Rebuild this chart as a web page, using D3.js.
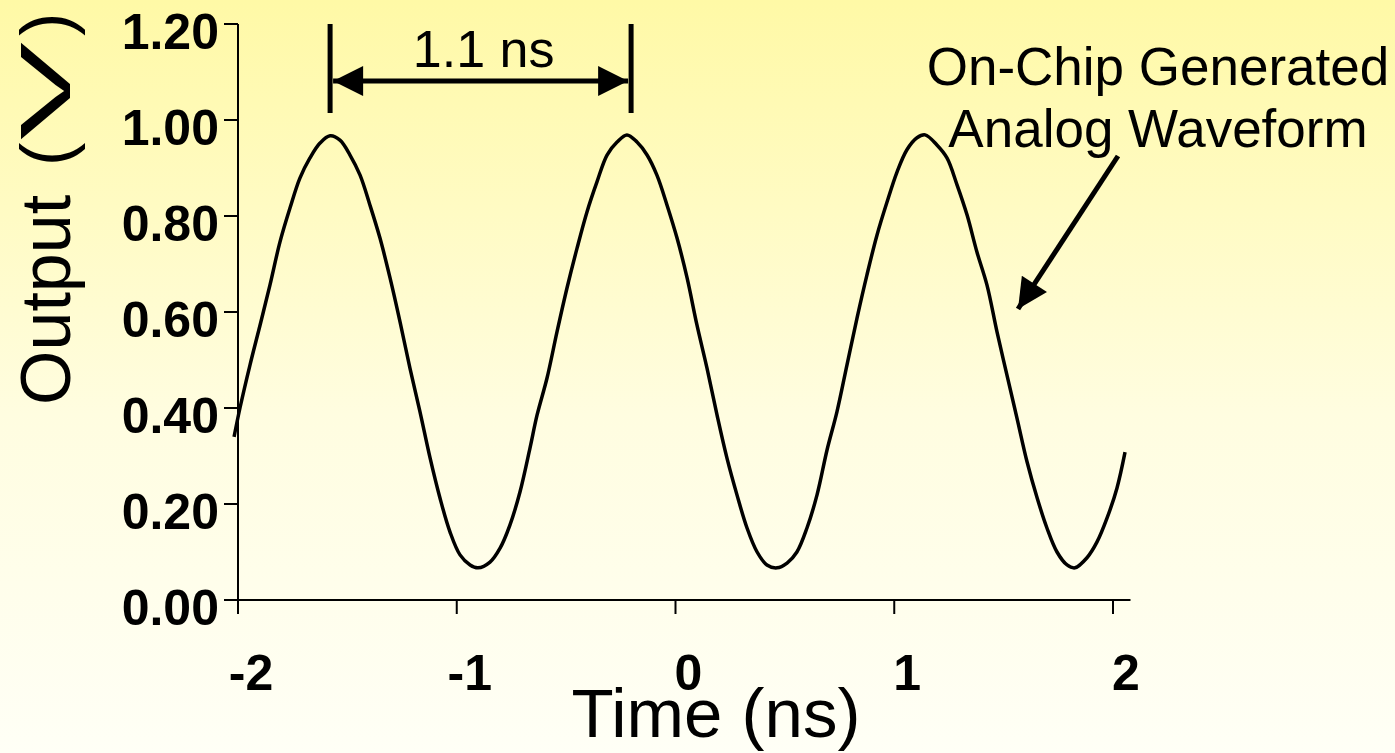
<!DOCTYPE html>
<html>
<head>
<meta charset="utf-8">
<script src="https://cdn.jsdelivr.net/npm/d3@7"></script>
<style>
  html, body { margin: 0; padding: 0; background: #fffff6; }
  svg { display: block; }
</style>
</head>
<body>
<svg id="chart" width="1395" height="753"></svg>
<script>
// Sampled output waveform: time (ns) and voltage (V)
const timeNs = [
  -2.018, -1.991, -1.945, -1.899, -1.854, -1.808, -1.762, -1.717, -1.671, -1.625,
  -1.579, -1.534, -1.488, -1.442, -1.397, -1.351, -1.305, -1.259, -1.214, -1.168,
  -1.122, -1.077, -1.031, -0.985, -0.939, -0.903, -0.848, -0.802, -0.757, -0.711,
  -0.665, -0.633, -0.587, -0.542, -0.496, -0.450, -0.405, -0.359, -0.313, -0.267,
  -0.222, -0.176, -0.130, -0.085, -0.039, 0.007, 0.053, 0.098, 0.144, 0.190,
  0.235, 0.281, 0.327, 0.373, 0.418, 0.464, 0.510, 0.555, 0.601, 0.647,
  0.693, 0.738, 0.784, 0.830, 0.875, 0.921, 0.967, 1.013, 1.058, 1.104,
  1.141, 1.195, 1.241, 1.287, 1.333, 1.378, 1.424, 1.470, 1.515, 1.561,
  1.607, 1.653, 1.698, 1.744, 1.790, 1.826, 1.881, 1.927, 1.973, 2.018,
  2.055
];
const outputV = [
  0.340, 0.400, 0.490, 0.573, 0.656, 0.746, 0.817, 0.879, 0.921, 0.952,
  0.967, 0.958, 0.927, 0.885, 0.823, 0.754, 0.671, 0.579, 0.483, 0.392,
  0.296, 0.213, 0.142, 0.094, 0.073, 0.067, 0.079, 0.108, 0.156, 0.225,
  0.317, 0.385, 0.463, 0.558, 0.650, 0.733, 0.808, 0.871, 0.927, 0.954,
  0.969, 0.954, 0.927, 0.885, 0.823, 0.754, 0.671, 0.573, 0.483, 0.385,
  0.296, 0.219, 0.150, 0.100, 0.073, 0.067, 0.077, 0.100, 0.150, 0.219,
  0.313, 0.392, 0.490, 0.588, 0.677, 0.760, 0.829, 0.892, 0.938, 0.963,
  0.969, 0.948, 0.921, 0.865, 0.802, 0.725, 0.656, 0.558, 0.469, 0.379,
  0.288, 0.213, 0.150, 0.100, 0.073, 0.067, 0.088, 0.121, 0.171, 0.233,
  0.308
];

// Axis ticks and labels
const yTicks = [0, 0.2, 0.4, 0.6, 0.8, 1.0, 1.2];
const yTickLabels = ["0.00", "0.20", "0.40", "0.60", "0.80", "1.00", "1.20"];
const xTicks = [-2, -1, 0, 1, 2];
const xTickLabels = ["-2", "-1", "0", "1", "2"];

// Period annotation between two peaks
const periodStart = -1.579;
const periodEnd = -0.203;
const periodLabel = "1.1 ns";
const calloutLines = ["On-Chip Generated", "Analog Waveform"];

const svg = d3.select("#chart");
const W = 1395, H = 753;

// Background gradient
const defs = svg.append("defs");
const grad = defs.append("linearGradient")
  .attr("id", "bg").attr("x1", 0).attr("y1", 0).attr("x2", 0).attr("y2", 1);
grad.append("stop").attr("offset", "0%").attr("stop-color", "#fff9a6");
grad.append("stop").attr("offset", "55%").attr("stop-color", "#fffde0");
grad.append("stop").attr("offset", "100%").attr("stop-color", "#fffff6");
svg.append("rect").attr("width", W).attr("height", H).attr("fill", "url(#bg)");

// Arrow marker
defs.append("marker")
  .attr("id", "head").attr("viewBox", "0 0 10 10")
  .attr("refX", 10).attr("refY", 5)
  .attr("markerUnits", "userSpaceOnUse")
  .attr("markerWidth", 34).attr("markerHeight", 30)
  .attr("orient", "auto-start-reverse")
  .append("path").attr("d", "M0,0 L10,5 L0,10 Z").attr("fill", "#000");

const x = d3.scaleLinear().domain([-2, 2]).range([238, 1113]);
const y = d3.scaleLinear().domain([0, 1.2]).range([600, 24]);

const font = "'Liberation Sans', Arial, sans-serif";

// Axes
const axisG = svg.append("g");
axisG.append("line")
  .attr("x1", 224).attr("x2", x(2.08))
  .attr("y1", y(0)).attr("y2", y(0))
  .attr("stroke", "#000").attr("stroke-width", 2);
axisG.append("line")
  .attr("x1", x(-2)).attr("x2", x(-2))
  .attr("y1", y(1.2)).attr("y2", 614)
  .attr("stroke", "#000").attr("stroke-width", 2);

axisG.selectAll(".xt").data(xTicks).join("line")
  .attr("x1", d => x(d)).attr("x2", d => x(d))
  .attr("y1", y(0)).attr("y2", y(0) + 14)
  .attr("stroke", "#000").attr("stroke-width", 2);
axisG.selectAll(".yt").data(yTicks).join("line")
  .attr("x1", x(-2) - 14).attr("x2", x(-2))
  .attr("y1", d => y(d)).attr("y2", d => y(d))
  .attr("stroke", "#000").attr("stroke-width", 2);

axisG.selectAll(".xl").data(xTicks).join("text")
  .attr("x", d => x(d) + 13).attr("y", 690)
  .attr("text-anchor", "middle")
  .attr("font-family", font).attr("font-weight", "bold").attr("font-size", 50)
  .text((d, i) => xTickLabels[i]);
axisG.selectAll(".yl").data(yTicks).join("text")
  .attr("x", 219).attr("y", d => y(d) + 25)
  .attr("text-anchor", "end")
  .attr("font-family", font).attr("font-weight", "bold").attr("font-size", 50)
  .text((d, i) => yTickLabels[i]);

// Axis titles
svg.append("text")
  .attr("x", 716).attr("y", 737)
  .attr("text-anchor", "middle")
  .attr("font-family", font).attr("font-size", 69)
  .text("Time (ns)");
const yTitle = svg.append("text")
  .attr("transform", "translate(70,0) rotate(-90)")
  .attr("font-family", font).attr("font-size", 70);
yTitle.append("tspan").attr("x", -405).text("Output");
yTitle.append("tspan").attr("x", -166).text("(");
yTitle.append("tspan").attr("x", -140)
  .attr("textLength", 98).attr("lengthAdjust", "spacingAndGlyphs")
  .text("V");
yTitle.append("tspan").attr("x", -36).text(")");

// Waveform
const pts = timeNs.map((t, i) => [t, outputV[i]]);
const line = d3.line()
  .x(d => x(d[0])).y(d => y(d[1]))
  .curve(d3.curveCatmullRom.alpha(0.5));
svg.append("path")
  .attr("d", line(pts))
  .attr("fill", "none").attr("stroke", "#000").attr("stroke-width", 3.5)
  .attr("stroke-linejoin", "round");

// Period bracket
const bx1 = x(periodStart), bx2 = x(periodEnd);
const br = svg.append("g").attr("stroke", "#000");
br.append("line").attr("x1", bx1).attr("x2", bx1).attr("y1", 24).attr("y2", 113).attr("stroke-width", 5);
br.append("line").attr("x1", bx2).attr("x2", bx2).attr("y1", 24).attr("y2", 113).attr("stroke-width", 5);
br.append("line")
  .attr("x1", bx1 + 3).attr("x2", bx2 - 3).attr("y1", 81).attr("y2", 81)
  .attr("stroke-width", 5)
  .attr("marker-start", "url(#head)").attr("marker-end", "url(#head)");
svg.append("text")
  .attr("x", (bx1 + bx2) / 2 + 3).attr("y", 67)
  .attr("text-anchor", "middle")
  .attr("font-family", font).attr("font-size", 52)
  .text(periodLabel);

// Callout
svg.append("text")
  .attr("text-anchor", "middle")
  .attr("font-family", font).attr("font-size", 53)
  .selectAll("tspan").data(calloutLines).join("tspan")
  .attr("x", 1158).attr("y", (d, i) => 85 + i * 62)
  .text(d => d);
svg.append("line")
  .attr("x1", 1118).attr("y1", 156).attr("x2", 1018).attr("y2", 309)
  .attr("stroke", "#000").attr("stroke-width", 5)
  .attr("marker-end", "url(#head)");
</script>
</body>
</html>
